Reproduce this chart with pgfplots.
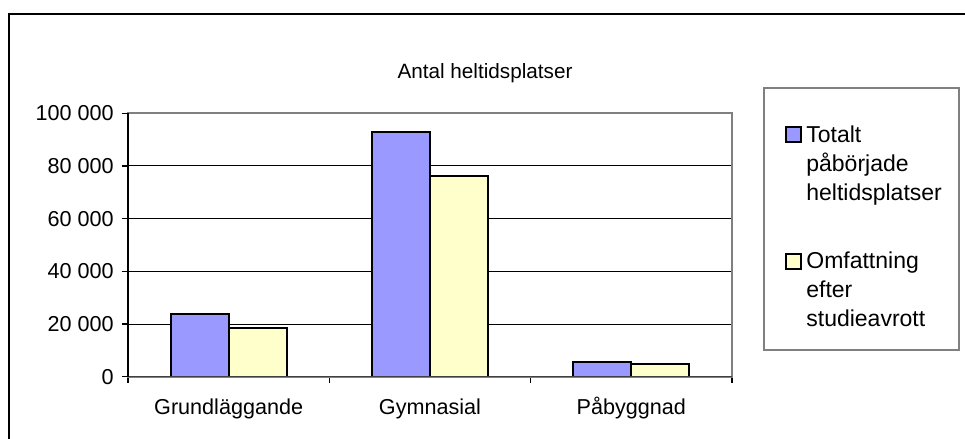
\documentclass[border=0pt]{standalone}
\usepackage{pgfplots}
\pgfplotsset{compat=1.18}
\usepackage{fontspec}
\setmainfont{Liberation Sans}
\definecolor{barblue}{HTML}{9999FF}
\definecolor{baryellow}{HTML}{FFFFCC}
\definecolor{frameg}{HTML}{808080}
\begin{document}
\begin{tikzpicture}[font=\fontsize{10.35pt}{13.6pt}\selectfont]
\useasboundingbox (0pt,0pt) rectangle (482.5pt,219.5pt);
% outer chart frame (right and bottom edges lie outside the picture)
\draw[black, line width=0.7pt] (4.5pt,-5pt) -- (4.5pt,212.5pt) -- (490pt,212.5pt);
% title
\node[anchor=base] at (242.5pt,180pt) {Antal heltidsplatser};
% legend frame
\draw[frameg, line width=0.9pt] (382pt,44.5pt) rectangle (479.5pt,175.5pt);
\begin{axis}[
  at={(64pt,31.15pt)}, anchor=south west,
  scale only axis, width=302pt, height=131.7pt,
  xmin=-0.5, xmax=2.5, ymin=0, ymax=100000,
  ybar=0pt, bar width=29pt,
  xtick={0,1,2}, xticklabels={Grundläggande,Gymnasial,Påbyggnad},
  minor xtick={-0.5,0.5,1.5,2.5},
  ytick={0,20000,40000,60000,80000,100000},
  yticklabels={0,20 000,40 000,60 000,80 000,100 000},
  scaled y ticks=false,
  xtick pos=bottom, ytick pos=left,
  tick align=outside, major tick length=3pt, minor tick length=3pt,
  major x tick style={draw=none},
  minor x tick style={black, line width=0.6pt},
  major y tick style={black, line width=0.6pt},
  ymajorgrids, major grid style={black, line width=0.5pt},
  axis line style={draw=none},
  tick label style={font=\fontsize{10.8pt}{13pt}\selectfont},
  xticklabel style={inner sep=0pt, anchor=base, yshift=-16pt},
  yticklabel style={inner sep=0pt, anchor=east, xshift=-4pt},
  legend style={at={(1.0877,0.968)}, anchor=north west, draw=none, fill=none,
    inner sep=0pt, row sep=51.5pt, column sep=2pt,
    nodes={inner sep=0pt},
    font=\fontsize{11.5pt}{14.5pt}\selectfont,
    cells={anchor=base west}},
  legend image code/.code={\draw[#1] (0pt,0pt) rectangle (7.5pt,7.5pt);},
  after end axis/.code={
    \draw[frameg, line width=1pt] (rel axis cs:0,0) rectangle (rel axis cs:1,1);
    \draw[black!75, line width=0.8pt] (rel axis cs:0,0) -- (rel axis cs:1,0);
    \draw[black, line width=0.7pt] (rel axis cs:0,0) -- (rel axis cs:0,1);
  },
]
\addplot[fill=barblue, draw=black, line width=1pt] coordinates {(0,23800) (1,93000) (2,5500)};
\addlegendentry{\begin{tabular}[t]{@{}l@{}}Totalt\\påbörjade\\heltidsplatser\end{tabular}}
\addplot[fill=baryellow, draw=black, line width=1pt] coordinates {(0,18400) (1,76300) (2,4900)};
\addlegendentry{\begin{tabular}[t]{@{}l@{}}Omfattning\\efter\\studieavrott\end{tabular}}
\end{axis}
\end{tikzpicture}
\end{document}
